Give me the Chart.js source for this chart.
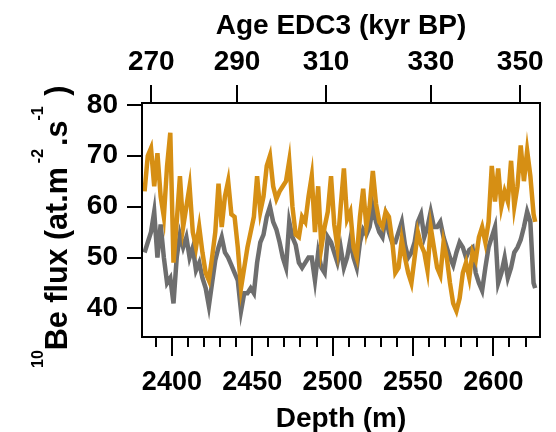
<!DOCTYPE html>
<html>
<head>
<meta charset="utf-8">
<script src="https://cdn.jsdelivr.net/npm/chart.js@4/dist/chart.umd.min.js"></script>
<style>
  body { margin: 0; background: #fff; }
  canvas { display: block; }
</style>
</head>
<body>
<canvas id="chart" width="556" height="432"></canvas>
<script>
// 深度 (m)
const depth = [
  2383, 2385, 2387, 2389, 2391, 2393, 2395, 2397, 2399, 2401,
  2403, 2405, 2407, 2409, 2411, 2413, 2415, 2417, 2419, 2421,
  2423, 2425, 2427, 2429, 2431, 2433, 2435, 2437, 2439, 2441,
  2443, 2445, 2447, 2449, 2451, 2453, 2455, 2457, 2459, 2461,
  2463, 2465, 2467, 2469, 2471, 2473, 2475, 2477, 2479, 2481,
  2483, 2485, 2487, 2489, 2491, 2493, 2495, 2497, 2499, 2501,
  2503, 2505, 2507, 2509, 2511, 2513, 2515, 2517, 2519, 2521,
  2523, 2525, 2527, 2529, 2531, 2533, 2535, 2537, 2539, 2541,
  2543, 2545, 2547, 2549, 2551, 2553, 2555, 2557, 2559, 2561,
  2563, 2565, 2567, 2569, 2571, 2573, 2575, 2577, 2579, 2581,
  2583, 2585, 2587, 2589, 2591, 2593, 2595, 2597, 2599, 2601,
  2603, 2605, 2607, 2609, 2611, 2613, 2615, 2617, 2619, 2621,
  2623, 2625, 2626
]

// オレンジ系列
const orangeFlux = [
  63, 70, 71.5, 64, 70.5, 62, 58, 68, 74.5, 49,
  57, 66, 56, 60, 64, 55, 52, 56, 51, 47,
  45.5, 50, 55, 64.5, 56, 62, 65, 58.5, 58, 52,
  44, 48, 52, 55, 58, 66, 59, 62, 68, 70,
  64, 61.5, 63, 64, 65, 69, 60, 54.5, 54, 58,
  57, 62, 66, 55, 64, 52, 56, 59, 66, 56.5,
  52, 60, 67.5, 57.5, 59, 52, 50, 58, 63.5, 56,
  60, 67, 60.5, 57, 56, 59, 58, 53.5, 47, 48,
  53.5, 50, 47, 45, 50, 55, 52.5, 51, 47.5, 56,
  52, 48, 46.5, 53, 50, 45, 41, 39.5, 42, 47,
  49, 46, 51, 49.5, 54, 56, 53, 57, 68, 61,
  67.5, 60, 63, 61, 69, 60, 64, 72, 65, 71,
  66, 58.5, 57
]

// グレー系列
const greyFlux = [
  51, 53, 55, 59, 50, 56.5, 50, 45, 46, 41,
  50, 54.5, 52, 54, 50, 52, 47.5, 49, 46, 44,
  40.5, 45, 49.5, 52, 54, 51, 50, 48.5, 47, 45.5,
  39.5, 43, 43, 44, 43, 49, 53, 54.5, 58, 60,
  57, 55.5, 53, 50, 48, 57, 54, 52.5, 49, 48,
  49, 50, 50, 45.5, 51, 48, 47, 54, 53, 51,
  49, 52, 48, 50, 53.5, 50, 48, 53, 55.5, 54.5,
  56, 60, 57, 55, 54, 58, 55, 53, 53, 55,
  57, 52.5, 50, 51, 53, 57, 58.5, 54, 56, 59,
  56, 56, 57, 54, 52, 50, 48.5, 51, 53, 52,
  50, 51.5, 52, 47, 45, 43.5, 48, 52, 54, 56,
  45, 47, 50, 46, 48, 51, 52, 53.5, 56, 59,
  57, 45, 44
]

// 軸の目盛
const depthTicks = [2390, 2400, 2410, 2420, 2430, 2440, 2450, 2460, 2470, 2480,
  2490, 2500, 2510, 2520, 2530, 2540, 2550, 2560, 2570, 2580, 2590, 2600, 2610, 2620]
const fluxTicks = [40, 50, 60, 70, 80]
const ageLabels = [270, 290, 310, 330, 350]
const ageDepths = [2387.2, 2440.5, 2495.9, 2561.1, 2616.7]

// 縦軸タイトル [文字, 上付き, 前の間隔]
const yTitleParts = [
  ['10', true, 0], ['Be flux (at.m', false, 0], ['-2', true, 4],
  ['.s', false, 3], ['-1', true, 0], [' )', false, 2]
]

const FONT = "'Liberation Sans', Arial, sans-serif"
Chart.defaults.font.family = FONT
Chart.defaults.font.weight = 'bold'
Chart.defaults.color = '#000'

const toPoints = vals => vals.map((v, i) => ({ x: depth[i], y: v }))

// 枠線
const framePlugin = {
  id: 'frame',
  afterDraw(chart) {
    const { ctx, chartArea: a } = chart
    ctx.save()
    ctx.strokeStyle = '#000'
    ctx.lineWidth = 2
    ctx.strokeRect(a.left, a.top, a.right - a.left, a.bottom - a.top)
    ctx.restore()
  }
}

// 縦軸タイトル (上付き付き)
const yTitlePlugin = {
  id: 'yTitle',
  afterDraw(chart) {
    const c = chart.ctx
    c.save()
    c.translate(67, 368)
    c.rotate(-Math.PI / 2)
    c.fillStyle = '#000'
    c.textAlign = 'left'
    c.textBaseline = 'alphabetic'
    let x = 0
    yTitleParts.forEach(([t, sup, gap]) => {
      x += gap
      c.font = `bold ${sup ? 16 : 30.5}px ${FONT}`
      c.fillText(t, x, sup ? -24 : 0)
      x += c.measureText(t).width
    })
    c.restore()
  }
}

const ctx = document.getElementById('chart').getContext('2d')
new Chart(ctx, {
  type: 'line',
  data: {
    datasets: [
      {
        data: toPoints(orangeFlux),
        borderColor: '#d68f14',
        borderWidth: 4.5,
        pointRadius: 0,
        tension: 0
      },
      {
        data: toPoints(greyFlux),
        borderColor: '#6e6e6e',
        borderWidth: 4.5,
        pointRadius: 0,
        tension: 0
      }
    ]
  },
  options: {
    responsive: false,
    animation: false,
    devicePixelRatio: 1,
    layout: { padding: { left: 0, right: 16, top: 0, bottom: 0 } },
    plugins: { legend: { display: false }, tooltip: { enabled: false } },
    scales: {
      x: {
        type: 'linear',
        position: 'bottom',
        min: 2381.4,
        max: 2629,
        afterBuildTicks: s => { s.ticks = depthTicks.map(v => ({ value: v })) },
        afterFit: s => { s.height = 95 },
        border: { display: false },
        grid: {
          drawOnChartArea: false,
          tickLength: 19,
          color: '#000',
          lineWidth: 2,
          tickBorderDash: c => (c.tick && c.tick.value % 50 !== 0) ? [10, 40] : []
        },
        ticks: {
          padding: 10,
          maxRotation: 0,
          autoSkip: false,
          font: { size: 27 },
          callback: v => (v % 50 === 0 ? String(v) : '')
        },
        title: {
          display: true,
          text: 'Depth (m)',
          font: { size: 28, lineHeight: 0.9 },
          padding: { top: 0, bottom: 0 }
        }
      },
      x2: {
        type: 'linear',
        position: 'top',
        min: 2381.4,
        max: 2629,
        afterBuildTicks: s => { s.ticks = ageDepths.map(v => ({ value: v })) },
        afterFit: s => { s.height = 103 },
        border: { display: false },
        grid: { drawOnChartArea: false, tickLength: 18, color: '#000', lineWidth: 2 },
        ticks: {
          padding: 6,
          maxRotation: 0,
          autoSkip: false,
          font: { size: 28 },
          callback: v => {
            const i = ageDepths.indexOf(v)
            return i >= 0 ? String(ageLabels[i]) : ''
          }
        },
        title: {
          display: true,
          text: 'Age EDC3 (kyr BP)',
          font: { size: 28 },
          padding: { top: 9, bottom: 0 }
        }
      },
      y: {
        type: 'linear',
        position: 'left',
        min: 34.4,
        max: 80.35,
        afterBuildTicks: s => { s.ticks = fluxTicks.map(v => ({ value: v })) },
        afterFit: s => { s.width = 142 },
        border: { display: false },
        grid: { drawOnChartArea: false, tickLength: 15, color: '#000', lineWidth: 2 },
        ticks: { padding: 9, font: { size: 28 } },
        title: { display: false }
      }
    }
  },
  plugins: [framePlugin, yTitlePlugin]
})
</script>
</body>
</html>
